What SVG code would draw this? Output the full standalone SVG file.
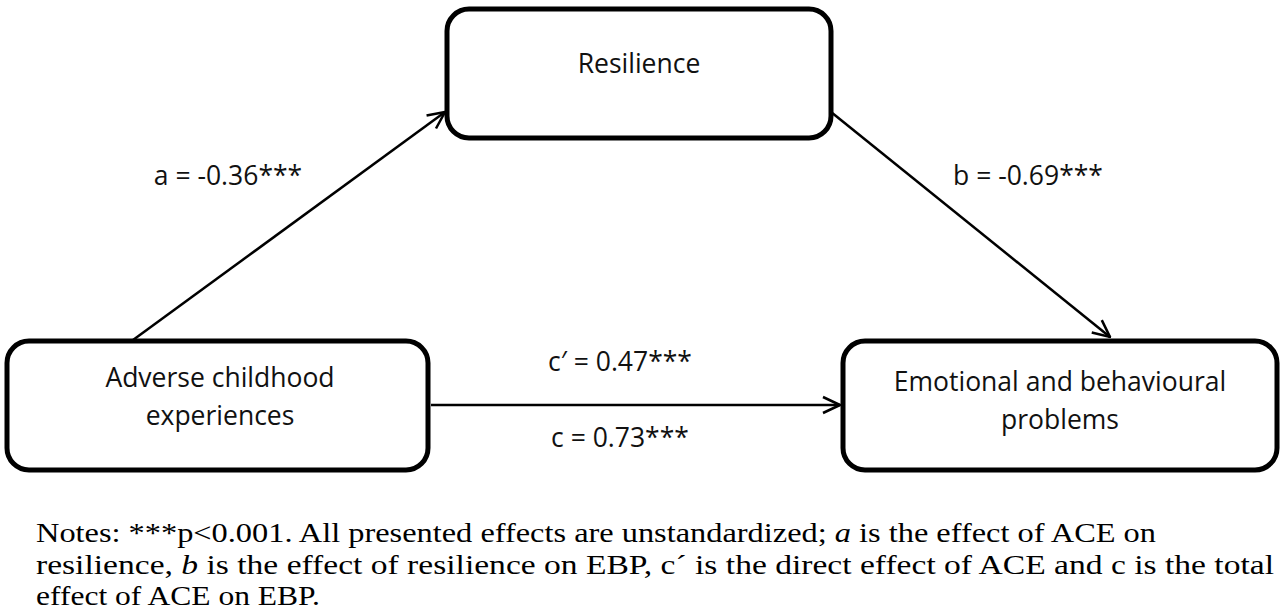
<svg xmlns="http://www.w3.org/2000/svg" width="1280" height="611" viewBox="0 0 1280 611">
<style>
.box{fill:#fff;stroke:#000;stroke-width:5}
.t{font-family:"Open Sans","Liberation Sans",sans-serif;font-size:26.5px;text-anchor:middle;fill:#111}
.n{font-family:"Liberation Serif",serif;font-size:28px;fill:#000}
.c{stroke:#000;stroke-width:2.5;fill:none}
</style>
<defs><marker id="ah" viewBox="0 0 20 20" refX="19" refY="10" markerWidth="20" markerHeight="20" markerUnits="userSpaceOnUse" orient="auto"><path d="M2,2 L19,10 L2,18" fill="none" stroke="#000" stroke-width="2.5"/></marker></defs>
<rect width="1280" height="611" fill="#fff"/>
<g id="connectors">
<line class="c" x1="133" y1="340" x2="445" y2="112" marker-end="url(#ah)"/>
<line class="c" x1="831" y1="112" x2="1110" y2="337" marker-end="url(#ah)"/>
<line class="c" x1="431" y1="405" x2="840" y2="405" marker-end="url(#ah)"/>
<text class="t" x="228" y="185">a = -0.36***</text>
<text class="t" x="1028" y="185">b = -0.69***</text>
<text class="t" x="620" y="371">c′ = 0.47***</text>
<text class="t" x="620" y="447">c = 0.73***</text>
</g>
<g id="resilience"><rect class="box" x="447" y="9" width="384" height="129" rx="22"/><text class="t" x="639" y="73">Resilience</text></g>
<g id="ace"><rect class="box" x="7" y="341" width="421" height="129" rx="22"/><text class="t" x="220" y="387">Adverse childhood</text><text class="t" x="220" y="425">experiences</text></g>
<g id="ebp"><rect class="box" x="843" y="341" width="434" height="129" rx="22"/><text class="t" x="1060" y="391">Emotional and behavioural</text><text class="t" x="1060" y="429">problems</text></g>
<g id="notes">
<text class="n" x="36" y="542" textLength="1120" lengthAdjust="spacingAndGlyphs">Notes: ***p&lt;0.001. All presented effects are unstandardized; <tspan font-style="italic">a</tspan> is the effect of ACE on</text>
<text class="n" x="36" y="574" textLength="1238" lengthAdjust="spacingAndGlyphs">resilience, <tspan font-style="italic">b</tspan> is the effect of resilience on EBP, c´ is the direct effect of ACE and c is the total</text>
<text class="n" x="36" y="605" textLength="284" lengthAdjust="spacingAndGlyphs">effect of ACE on EBP.</text>
</g>
</svg>
